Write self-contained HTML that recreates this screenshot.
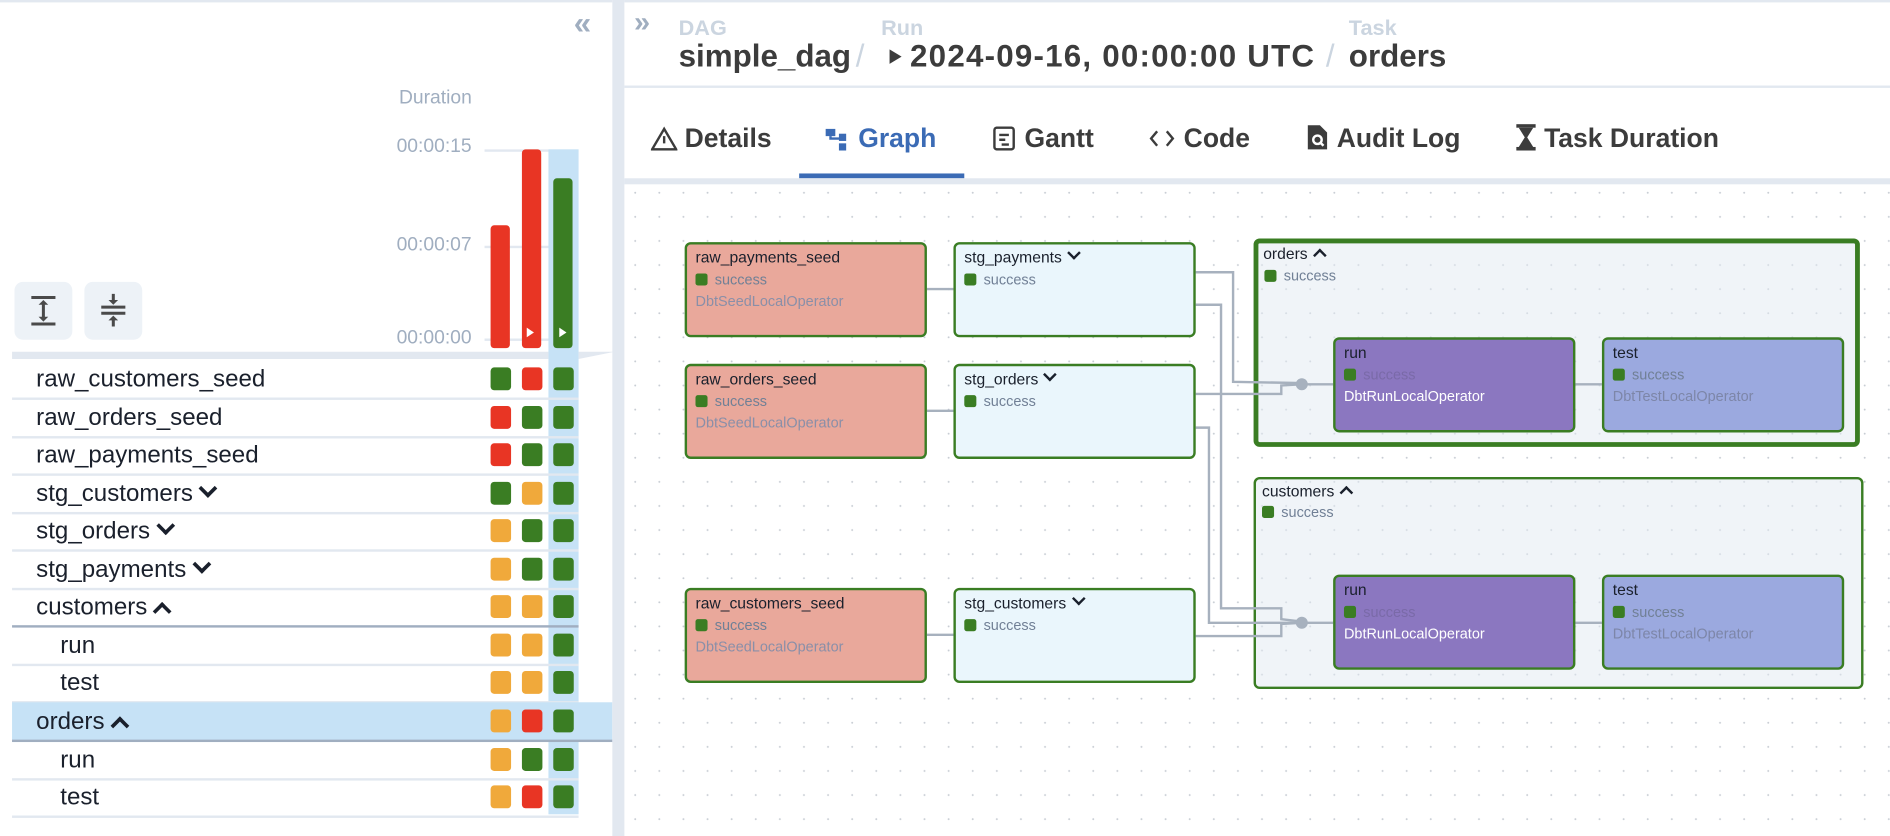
<!DOCTYPE html>
<html><head><meta charset="utf-8">
<style>
html,body{margin:0;padding:0;width:1890px;height:836px;overflow:hidden;background:#fff;font-family:"Liberation Sans",sans-serif;}
#w{position:absolute;left:0;top:0;width:1568px;height:694px;transform:scale(1.20536,1.2046);transform-origin:0 0;}
.a{position:absolute;white-space:nowrap;}
.row{position:absolute;left:10px;width:470px;height:31px;border-bottom:2px solid #e2e8f0;}
.row .t{position:absolute;left:20px;top:5px;font-size:20px;color:#1a202c;}
.sq{position:absolute;width:17px;height:19px;border-radius:3px;top:6px;}
.G{background:#3a7d23}.R{background:#e83524}.O{background:#f0a93b}
.node{position:absolute;box-sizing:border-box;border:2px solid #3a7d23;border-radius:5px;width:201px;height:79px;}
.node .n{position:absolute;left:7px;top:3px;font-size:13px;color:#1a202c;}
.node .s{position:absolute;left:7px;top:22px;font-size:12px;color:#718096;}
.node .s i{display:inline-block;width:10px;height:10px;background:#3a7d23;border-radius:2px;margin-right:6px;vertical-align:-1px;}
.node .o{position:absolute;left:7px;top:40px;font-size:12px;color:#8a8fa8;}
.seed{background:#e9a89b}.stg{background:#eaf6fc}.run{background:#8b77c0}.test{background:#9ba9df}
.tab{position:absolute;top:102px;font-size:22px;font-weight:bold;color:#3c3c3c;}
.tab svg{vertical-align:-3px;margin-right:6px}
.dn{display:inline-block;width:6px;height:6px;border-right:2px solid #1a202c;border-bottom:2px solid #1a202c;transform:rotate(45deg);margin-left:6px;vertical-align:4px}
.up{display:inline-block;width:6px;height:6px;border-left:2px solid #1a202c;border-top:2px solid #1a202c;transform:rotate(45deg);margin-left:6px;vertical-align:-1px}
.row .dn{width:8px;height:8px;border-width:3px;margin-left:7px;vertical-align:5px}
.row .up{width:8px;height:8px;border-width:3px;margin-left:7px;vertical-align:-3px}
.hd{position:absolute;top:31px;font-size:26px;font-weight:bold;color:#3c3c3c;white-space:nowrap}
</style></head><body>
<div id="w">
<!-- sidebar -->
<div class="a" style="left:0;top:0;width:508px;height:2px;background:#e2e8f0"></div>
<div class="a" style="left:476px;top:4px;font-size:26px;font-weight:bold;color:#a0aec0;letter-spacing:-4px">«</div>
<div class="a" style="left:331px;top:73px;font-size:16px;color:#a0aec0">Duration</div>
<div class="a" style="left:329px;top:113px;font-size:16px;color:#a0aec0">00:00:15</div>
<div class="a" style="left:329px;top:195px;font-size:16px;color:#a0aec0">00:00:07</div>
<div class="a" style="left:329px;top:272px;font-size:16px;color:#a0aec0">00:00:00</div>
<div class="a" style="left:402px;top:124px;width:78px;height:2px;background:#e2e8f0"></div>
<div class="a" style="left:402px;top:204px;width:78px;height:2px;background:#e2e8f0"></div>
<div class="a" style="left:402px;top:281px;width:78px;height:2px;background:#e2e8f0"></div>
<div class="a" style="left:455px;top:124px;width:25px;height:552px;background:#c6e2f6"></div>
<div class="a" style="left:407px;top:187px;width:16px;height:102px;background:#e83524;border-radius:3px"></div>
<div class="a" style="left:433px;top:124px;width:16px;height:165px;background:#e83524;border-radius:3px"></div>
<div class="a" style="left:459px;top:148px;width:16px;height:141px;background:#3a7d23;border-radius:3px"></div>
<div class="a" style="left:437px;top:272px;width:0;height:0;border-left:6px solid #fff;border-top:4px solid transparent;border-bottom:4px solid transparent"></div>
<div class="a" style="left:464px;top:272px;width:0;height:0;border-left:6px solid #fff;border-top:4px solid transparent;border-bottom:4px solid transparent"></div>
<div class="a" style="left:12px;top:234px;width:48px;height:48px;background:#edf2f7;border-radius:7px"></div>
<div class="a" style="left:70px;top:234px;width:48px;height:48px;background:#edf2f7;border-radius:7px"></div>
<svg class="a" style="left:12px;top:234px" width="106" height="48"><g stroke="#4a4a4a" stroke-width="2.5" fill="#4a4a4a">
<line x1="14" y1="13" x2="34" y2="13"/><line x1="14" y1="35" x2="34" y2="35"/><line x1="24" y1="18" x2="24" y2="30"/>
<polygon points="20,19 28,19 24,15" stroke="none"/><polygon points="20,29 28,29 24,33" stroke="none"/>
<line x1="72" y1="21" x2="92" y2="21"/><line x1="72" y1="26" x2="92" y2="26"/><line x1="82" y1="10" x2="82" y2="16"/><line x1="82" y1="31" x2="82" y2="37"/>
<polygon points="78,15 86,15 82,19" stroke="none"/><polygon points="78,32 86,32 82,28" stroke="none"/></g></svg>
<div class="a" style="left:10px;top:292px;width:445px;height:6px;background:#e2e8f0"></div>
<div class="a" style="left:480px;top:292px;width:0;height:0;border-left:30px solid #e2e8f0;border-bottom:6px solid transparent"></div>

<div class="row" style="top:299px"><span class="t">raw_customers_seed</span><i class="sq G" style="left:397px"></i><i class="sq R" style="left:423px"></i><i class="sq G" style="left:449px"></i></div>
<div class="row" style="top:331px"><span class="t">raw_orders_seed</span><i class="sq R" style="left:397px"></i><i class="sq G" style="left:423px"></i><i class="sq G" style="left:449px"></i></div>
<div class="row" style="top:362px"><span class="t">raw_payments_seed</span><i class="sq R" style="left:397px"></i><i class="sq G" style="left:423px"></i><i class="sq G" style="left:449px"></i></div>
<div class="row" style="top:394px"><span class="t">stg_customers<b class="dn"></b></span><i class="sq G" style="left:397px"></i><i class="sq O" style="left:423px"></i><i class="sq G" style="left:449px"></i></div>
<div class="row" style="top:425px"><span class="t">stg_orders<b class="dn"></b></span><i class="sq O" style="left:397px"></i><i class="sq G" style="left:423px"></i><i class="sq G" style="left:449px"></i></div>
<div class="row" style="top:457px"><span class="t">stg_payments<b class="dn"></b></span><i class="sq O" style="left:397px"></i><i class="sq G" style="left:423px"></i><i class="sq G" style="left:449px"></i></div>
<div class="row" style="top:488px;border-bottom-color:#a0aec0"><span class="t">customers<b class="up"></b></span><i class="sq O" style="left:397px"></i><i class="sq O" style="left:423px"></i><i class="sq G" style="left:449px"></i></div>
<div class="row" style="top:520px"><span class="t" style="left:40px">run</span><i class="sq O" style="left:397px"></i><i class="sq O" style="left:423px"></i><i class="sq G" style="left:449px"></i></div>
<div class="row" style="top:551px"><span class="t" style="left:40px">test</span><i class="sq O" style="left:397px"></i><i class="sq O" style="left:423px"></i><i class="sq G" style="left:449px"></i></div>
<div class="row" style="top:583px;width:498px;background:#c6e2f6;border-bottom-color:#a0aec0"><span class="t">orders<b class="up"></b></span><i class="sq O" style="left:397px"></i><i class="sq R" style="left:423px"></i><i class="sq G" style="left:449px"></i></div>
<div class="row" style="top:615px"><span class="t" style="left:40px">run</span><i class="sq O" style="left:397px"></i><i class="sq G" style="left:423px"></i><i class="sq G" style="left:449px"></i></div>
<div class="row" style="top:646px"><span class="t" style="left:40px">test</span><i class="sq O" style="left:397px"></i><i class="sq R" style="left:423px"></i><i class="sq G" style="left:449px"></i></div>

<div class="a" style="left:508px;top:0;width:10px;height:694px;background:#e2e8f0"></div>

<!-- header -->
<div class="a" style="left:518px;top:0;width:1050px;height:2px;background:#e2e8f0"></div>
<div class="a" style="left:526px;top:5px;font-size:24px;font-weight:bold;color:#a0aec0;letter-spacing:-4px">»</div>
<div class="a" style="left:563px;top:13px;font-size:18px;font-weight:bold;color:#cbd5e0">DAG</div>
<div class="a" style="left:731px;top:13px;font-size:18px;font-weight:bold;color:#cbd5e0">Run</div>
<div class="a" style="left:1119px;top:13px;font-size:18px;font-weight:bold;color:#cbd5e0">Task</div>
<div class="hd" style="left:563px">simple_dag</div>
<div class="hd" style="left:710px;color:#cbd5e0;font-weight:normal">/</div>
<div class="a" style="left:738px;top:41px;width:0;height:0;border-left:10px solid #3c3c3c;border-top:6px solid transparent;border-bottom:6px solid transparent"></div>
<div class="hd" style="left:755px;letter-spacing:1px">2024-09-16, 00:00:00 UTC</div>
<div class="hd" style="left:1100px;color:#cbd5e0;font-weight:normal">/</div>
<div class="hd" style="left:1119px">orders</div>
<div class="a" style="left:518px;top:71px;width:1050px;height:2px;background:#e2e8f0"></div>

<div class="tab" style="left:540px"><svg width="22" height="20"><path d="M11 2 L21 19 L1 19 Z" fill="none" stroke="#3c3c3c" stroke-width="2"/><line x1="11" y1="8" x2="11" y2="14" stroke="#3c3c3c" stroke-width="2"/></svg>Details</div>
<div class="tab" style="left:684px;color:#3b6bb5"><svg width="22" height="20"><rect x="1" y="2" width="8" height="6" fill="#3b6bb5"/><rect x="12" y="6" width="6" height="6" fill="#3b6bb5"/><rect x="12" y="14" width="6" height="6" fill="#3b6bb5"/><path d="M5 8 V10 H15" stroke="#3b6bb5" stroke-width="2" fill="none"/></svg>Graph</div>
<div class="tab" style="left:822px"><svg width="22" height="20"><rect x="3" y="1" width="16" height="18" rx="2" fill="none" stroke="#3c3c3c" stroke-width="2"/><line x1="7" y1="7" x2="15" y2="7" stroke="#3c3c3c" stroke-width="2"/><line x1="7" y1="11" x2="12" y2="11" stroke="#3c3c3c" stroke-width="2"/><line x1="9" y1="15" x2="15" y2="15" stroke="#3c3c3c" stroke-width="2"/></svg>Gantt</div>
<div class="tab" style="left:952px"><svg width="24" height="20"><path d="M8 4 L3 10 L8 16 M16 4 L21 10 L16 16" fill="none" stroke="#3c3c3c" stroke-width="2"/></svg>Code</div>
<div class="tab" style="left:1083px"><svg width="20" height="22"><path d="M2 1 H12 L18 7 V21 H2 Z" fill="#3c3c3c"/><circle cx="10" cy="13" r="3.5" fill="none" stroke="#fff" stroke-width="2"/><line x1="12" y1="15" x2="15" y2="18" stroke="#fff" stroke-width="2"/></svg>Audit Log</div>
<div class="tab" style="left:1257px"><svg width="18" height="22"><rect x="1" y="0" width="16" height="3" fill="#3c3c3c"/><rect x="1" y="19" width="16" height="3" fill="#3c3c3c"/><path d="M3 3 H15 L10 11 L15 19 H3 L8 11 Z" fill="#3c3c3c"/></svg>Task Duration</div>
<div class="a" style="left:663px;top:144px;width:137px;height:4px;background:#3b6bb5"></div>
<div class="a" style="left:518px;top:148px;width:1050px;height:5px;background:#e2e8f0"></div>

<!-- graph -->
<svg class="a" style="left:518px;top:153px" width="1050" height="541">
<defs><pattern id="d" width="20" height="20" patternUnits="userSpaceOnUse" x="8" y="6"><circle cx="1" cy="1" r="0.8" fill="#c8cdd4"/></pattern></defs>
<rect width="1050" height="541" fill="url(#d)"/>
</svg>
<div class="a" style="left:1040px;top:198px;width:503px;height:173px;box-sizing:border-box;border:4px solid #3a7d23;border-radius:5px;background:rgba(226,234,242,0.5)"></div>
<div class="a" style="left:1048px;top:203px;font-size:13px;color:#1a202c">orders<b class="up"></b></div>
<div class="a" style="left:1049px;top:222px;font-size:12px;color:#718096"><i style="display:inline-block;width:10px;height:10px;background:#3a7d23;border-radius:2px;margin-right:6px;vertical-align:-1px"></i>success</div>
<div class="a" style="left:1040px;top:396px;width:506px;height:176px;box-sizing:border-box;border:2px solid #3a7d23;border-radius:5px;background:rgba(226,234,242,0.5)"></div>
<div class="a" style="left:1047px;top:400px;font-size:13px;color:#1a202c">customers<b class="up"></b></div>
<div class="a" style="left:1047px;top:418px;font-size:12px;color:#718096"><i style="display:inline-block;width:10px;height:10px;background:#3a7d23;border-radius:2px;margin-right:6px;vertical-align:-1px"></i>success</div>

<svg class="a" style="left:0;top:0" width="1568" height="694"><g stroke="#a7b1be" stroke-width="2" fill="none">
<line x1="769" y1="240" x2="791" y2="240"/><line x1="769" y1="341" x2="791" y2="341"/><line x1="769" y1="527" x2="791" y2="527"/>
<polyline points="992,226 1023,226 1023,317 1080,318"/>
<polyline points="992,253 1013,253 1013,505 1063,505 1063,514 1080,516"/>
<polyline points="992,327 1063,327 1063,320 1080,319"/>
<polyline points="992,355 1003,355 1003,517 1080,517"/>
<polyline points="992,528 1063,528 1063,518 1080,517"/>
<line x1="1080" y1="319" x2="1106" y2="319"/><line x1="1080" y1="517" x2="1106" y2="517"/>
<line x1="1307" y1="319" x2="1329" y2="319"/><line x1="1307" y1="517" x2="1329" y2="517"/>
</g><circle cx="1080" cy="319" r="5" fill="#a7b1be"/><circle cx="1080" cy="517" r="5" fill="#a7b1be"/></svg>

<div class="node seed" style="left:568px;top:201px"><span class="n">raw_payments_seed</span><span class="s"><i></i>success</span><span class="o">DbtSeedLocalOperator</span></div>
<div class="node stg" style="left:791px;top:201px"><span class="n">stg_payments<b class="dn"></b></span><span class="s"><i></i>success</span></div>
<div class="node seed" style="left:568px;top:302px"><span class="n">raw_orders_seed</span><span class="s"><i></i>success</span><span class="o">DbtSeedLocalOperator</span></div>
<div class="node stg" style="left:791px;top:302px"><span class="n">stg_orders<b class="dn"></b></span><span class="s"><i></i>success</span></div>
<div class="node seed" style="left:568px;top:488px"><span class="n">raw_customers_seed</span><span class="s"><i></i>success</span><span class="o">DbtSeedLocalOperator</span></div>
<div class="node stg" style="left:791px;top:488px"><span class="n">stg_customers<b class="dn"></b></span><span class="s"><i></i>success</span></div>

<div class="node run" style="left:1106px;top:280px"><span class="n">run</span><span class="s" style="color:#7a6aa8"><i></i>success</span><span class="o" style="color:#fff">DbtRunLocalOperator</span></div>
<div class="node test" style="left:1329px;top:280px"><span class="n">test</span><span class="s"><i></i>success</span><span class="o" style="color:#7d86a8">DbtTestLocalOperator</span></div>
<div class="node run" style="left:1106px;top:477px"><span class="n">run</span><span class="s" style="color:#7a6aa8"><i></i>success</span><span class="o" style="color:#fff">DbtRunLocalOperator</span></div>
<div class="node test" style="left:1329px;top:477px"><span class="n">test</span><span class="s"><i></i>success</span><span class="o" style="color:#7d86a8">DbtTestLocalOperator</span></div>
</div>
</body></html>
